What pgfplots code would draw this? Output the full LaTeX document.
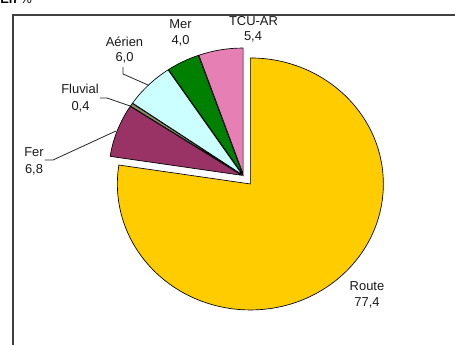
\documentclass[border=0pt]{standalone}
\usepackage{pgfplots}
\usepackage{pgfplotstable}
\usepackage{fontspec}
\setmainfont{Liberation Sans}
\pgfplotsset{compat=1.18}
\definecolor{cRoute}{HTML}{FFCC00}
\definecolor{cFer}{HTML}{993366}
\definecolor{cFluv}{HTML}{8C8C6E}
\definecolor{cAir}{HTML}{CCFFFF}
\definecolor{cMer}{HTML}{008000}
\definecolor{cTcu}{HTML}{E680B4}
\definecolor{frame}{HTML}{404040}

\pgfplotstableread{
label value explode
Route 77.4 10.5
Fer 6.8 2
Fluvial 0.4 2
Aerien 6.0 2
Mer 4.0 2
TCU 5.4 2
}\data

% cumulative angles (clockwise from 12 o'clock)
\def\cum{0}
\pgfplotstableforeachcolumnelement{value}\of\data\as\v{%
  \pgfmathsetmacro\a{90-3.6*\cum}%
  \pgfmathsetmacro\newcum{\cum+\v}%
  \pgfmathsetmacro\b{90-3.6*\newcum}%
  \expandafter\xdef\csname sa\pgfplotstablerow\endcsname{\a}%
  \expandafter\xdef\csname sb\pgfplotstablerow\endcsname{\b}%
  \xdef\cum{\newcum}%
}

\def\rx{133}\def\ry{126}
\def\czx{243.5}\def\czy{169}

\newcommand{\slice}[2]{% #1 row, #2 colour
  \pgfplotstablegetelem{#1}{explode}\of\data
  \let\ex\pgfplotsretval
  \edef\sa{\csname sa#1\endcsname}%
  \edef\sb{\csname sb#1\endcsname}%
  \pgfmathsetmacro\m{(\sa+\sb)/2}%
  \pgfmathsetmacro\cx{\czx+\ex*cos(\m)}%
  \pgfmathsetmacro\cy{\czy+\ex*sin(\m)}%
  \pgfmathsetmacro\sx{\cx+\rx*cos(\sa)}%
  \pgfmathsetmacro\sy{\cy+\ry*sin(\sa)}%
  \pgfmathsetmacro\rxpt{\rx*0.75}%
  \pgfmathsetmacro\rypt{\ry*0.75}%
  \edef\tmp{\noexpand\filldraw[fill=#2, draw=black, line width=0.5pt, line join=miter]
    (axis cs:\cx,\cy) -- (axis cs:\sx,\sy)
    arc[start angle=\sa, end angle=\sb, x radius=\rxpt pt, y radius=\rypt pt] -- cycle;}%
  \tmp
}

\tikzset{lab/.style={anchor=base, font=\fontsize{9.7}{11}\selectfont, text=black!90, inner sep=0pt}}

\begin{document}
\begin{tikzpicture}
\begin{axis}[
  hide axis, clip=false,
  x=0.75pt, y=0.75pt,
  xmin=0, xmax=455, ymin=0, ymax=345,
]
\slice{0}{cRoute}
\slice{1}{cFer}
\slice{2}{cFluv}
\slice{3}{cAir}
\slice{4}{cMer}
\slice{5}{cTcu}

% frame
\draw[frame, line width=1.5pt] (axis cs:13,0) -- (axis cs:13,330) -- (axis cs:455,330);
\node[anchor=base west, inner sep=0pt, font=\fontsize{9.7}{11}\selectfont] at (axis cs:0,341) {\textbf{En} \%};

% leader lines
\draw[black!85, line width=0.6pt] (axis cs:123,278) -- (axis cs:123,271) -- (axis cs:148,260);
\draw[black!85, line width=0.6pt] (axis cs:100,247) -- (axis cs:107,247) -- (axis cs:130,239);
\draw[black!85, line width=0.6pt] (axis cs:45,185) -- (axis cs:53,185) -- (axis cs:116,214);

% labels
\node[lab] at (axis cs:367,54) {Route};
\node[lab] at (axis cs:367,38) {77,4};
\node[lab] at (axis cs:253.5,319) {TCU-AR};
\node[lab] at (axis cs:253,304) {5,4};
\node[lab] at (axis cs:180.5,316) {Mer};
\node[lab] at (axis cs:180.5,300) {4,0};
\node[lab] at (axis cs:124.5,298) {Aérien};
\node[lab] at (axis cs:124.5,283) {6,0};
\node[lab] at (axis cs:80,251) {Fluvial};
\node[lab] at (axis cs:80.5,234) {0,4};
\node[lab] at (axis cs:34,188) {Fer};
\node[lab] at (axis cs:34,171) {6,8};
\end{axis}
\pgfresetboundingbox
\useasboundingbox (0,0) rectangle (341.25pt,258.75pt);
\end{tikzpicture}
\end{document}
